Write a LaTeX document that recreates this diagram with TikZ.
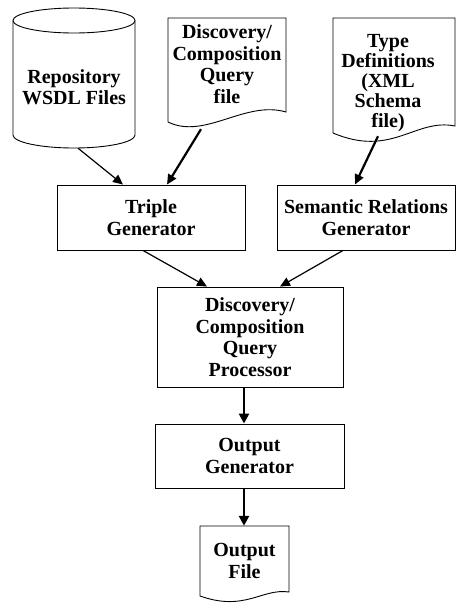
\documentclass[tikz,border=0pt]{standalone}
\usepackage{fontspec}
\setmainfont{Liberation Serif}
\usetikzlibrary{arrows.meta}
\begin{document}
\begin{tikzpicture}[x=1pt,y=-1pt,
  every node/.style={font=\bfseries\fontsize{20}{21.5}\selectfont, align=center},
  box/.style={draw, line width=0.9pt, inner sep=0pt},
  ghost/.style={inner sep=0pt},
  outline/.style={draw, line width=0.9pt, fill=white},
  thin/.style={line width=1.2pt, -{Triangle[length=10pt,width=9pt]}},
  thick/.style={line width=2.2pt, -{Triangle[length=10pt,width=9pt]}},
  thicker/.style={line width=2.8pt, -{Triangle[length=10pt,width=10pt]}}]
\useasboundingbox (0,0) rectangle (456,608);
\fill[white] (0,0) rectangle (456,608);

% cylinder
\draw[outline] (13,20.5) -- (13,135) arc[start angle=180,end angle=360,x radius=61pt,y radius=13pt] -- (135,20.5)
   arc[start angle=0,end angle=180,x radius=61pt,y radius=12.5pt] -- cycle;
\draw[line width=0.9pt] (13,20.5) arc[start angle=180,end angle=360,x radius=61pt,y radius=12.5pt];
\node[ghost, minimum width=122pt, minimum height=140pt] (repo) at (74,78) {};
\node (repotext) at (74,87) {Repository\\WSDL Files};

% document 1
\draw[outline] (168,18) -- (286,18) -- (286,112) .. controls (245,100) and (205,140) .. (168,122) -- cycle;
\node[ghost, minimum width=118pt, minimum height=112pt] (doc1) at (227,74) {};
\node (doc1text) at (227,64) {Discovery/\\Composition\\Query\\file};

% document 2
\draw[outline] (333,18) -- (455,18) -- (455,126) .. controls (415,118) and (392,158) .. (333,133) -- cycle;
\node[ghost, minimum width=122pt, minimum height=122pt] (doc2) at (394,79) {};
\node[font=\bfseries\fontsize{20}{20}\selectfont] (doc2text) at (388,83) {Type\\Definitions\\(XML\\Schema\\file)};

% boxes
\node[box, minimum width=188pt, minimum height=65pt] (triple) at (151,217.5) {Triple\\Generator};
\node[box, minimum width=178pt, minimum height=65pt] (sem) at (366,217.5) {Semantic Relations\\Generator};
\node[box, minimum width=186pt, minimum height=100pt] (proc) at (250,337) {Discovery/\\Composition\\Query\\Processor};
\node[box, minimum width=189pt, minimum height=64pt] (outgen) at (249.5,456) {Output\\Generator};

% output file
\draw[outline] (200,526) -- (289,526) -- (289,592) .. controls (262,588) and (245,612) .. (200,596) -- cycle;
\node[ghost, minimum width=89pt, minimum height=70pt] (outfile) at (244.5,561) {};
\node (outfiletext) at (244.5,561) {Output\\File};

% connectors
\draw[thin] ([xshift=4pt]repo.south) -- ([xshift=-28pt]triple.north);
\draw[thick] ([xshift=-26pt,yshift=1pt]doc1.south) -- ([xshift=16pt]triple.north);
\draw[thick] ([xshift=-16pt,yshift=4pt]doc2.south) -- ([xshift=-11pt]sem.north);
\draw[thin] ([xshift=-8pt]triple.south) -- ([xshift=-43pt]proc.north);
\draw[thin] ([xshift=-23pt]sem.south) -- ([xshift=30pt]proc.north);
\draw[thicker] ([xshift=-6pt]proc.south) -- ([xshift=-5.5pt]outgen.north);
\draw[thicker] ([xshift=-5.5pt]outgen.south) -- ([xshift=-0.5pt]outfile.north);
\end{tikzpicture}
\end{document}
